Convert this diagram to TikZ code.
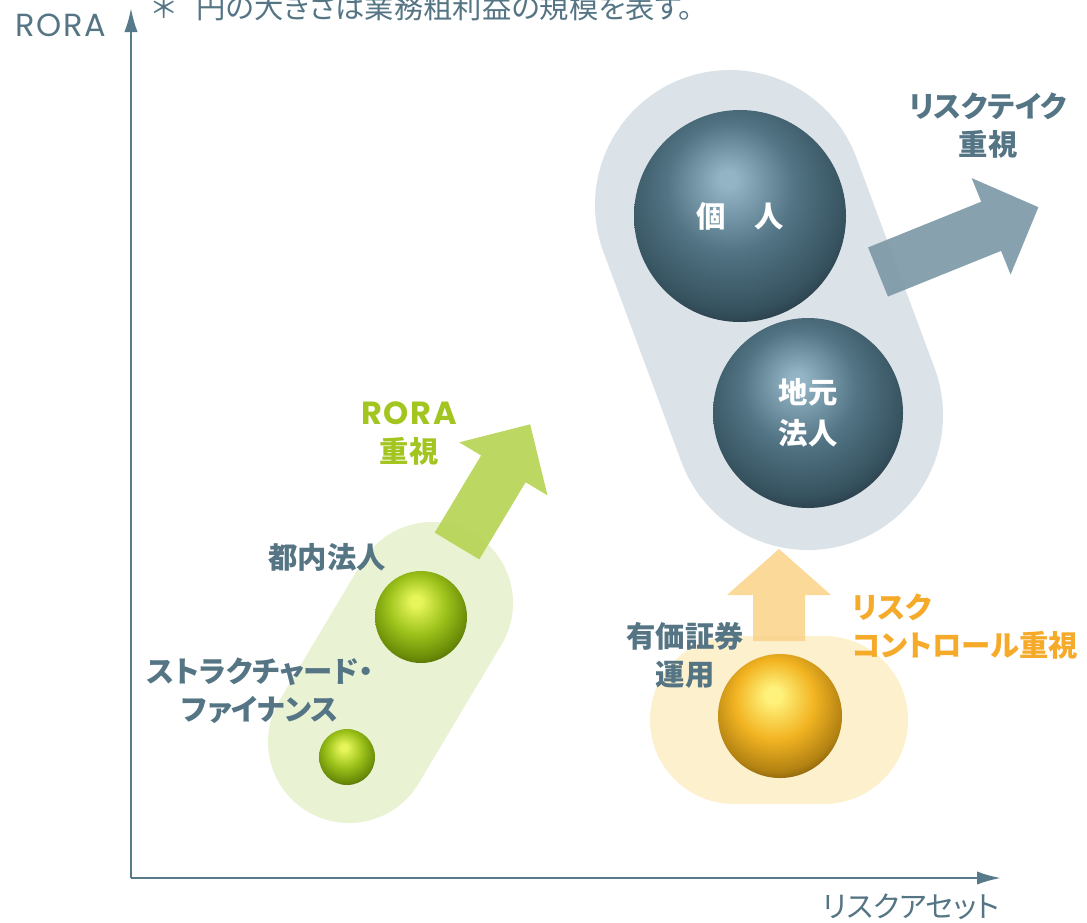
\documentclass[tikz,border=0pt]{standalone}
\usepackage{fontspec}
\usetikzlibrary{arrows.meta}
\newfontfamily\jp[RawFeature=+palt]{Noto Sans CJK JP}
\newfontfamily\latin[LetterSpace=5]{Poppins}
\definecolor{axiscol}{HTML}{567A8A}
\definecolor{labcol}{HTML}{557585}
\definecolor{pillgray}{HTML}{DCE3E8}
\definecolor{pillgreen}{HTML}{E9F3D3}
\definecolor{pillorange}{HTML}{FDF0CD}
\definecolor{arrgray}{HTML}{7E99A7}
\definecolor{arrgreen}{HTML}{B6D352}
\definecolor{arrorange}{HTML}{F9D287}
\definecolor{greentext}{HTML}{A3C51F}
\definecolor{orangetext}{HTML}{F5AA2A}
\definecolor{bhi}{HTML}{93B4C4}
\definecolor{bmid}{HTML}{527484}
\definecolor{bdark}{HTML}{36525F}
\definecolor{bedge}{HTML}{22323C}
\definecolor{ghi}{HTML}{E6F55A}
\definecolor{gmid}{HTML}{9CC21A}
\definecolor{gdark}{HTML}{6A8C08}
\definecolor{gedge}{HTML}{4A6200}
\definecolor{ohi}{HTML}{FFF27C}
\definecolor{omid}{HTML}{F2B422}
\definecolor{odark}{HTML}{B38212}
\definecolor{oedge}{HTML}{6E5008}
\pgfdeclareradialshading{sphblue}{\pgfpoint{-3bp}{9bp}}{color(0bp)=(bhi); color(2bp)=(bhi); color(15bp)=(bmid); color(27bp)=(bdark); color(33bp)=(bedge); color(60bp)=(bedge)}
\pgfdeclareradialshading{sphgreen}{\pgfpoint{-3bp}{9bp}}{color(0bp)=(ghi); color(3bp)=(ghi); color(16bp)=(gmid); color(27bp)=(gdark); color(33bp)=(gedge); color(60bp)=(gedge)}
\pgfdeclareradialshading{sphgold}{\pgfpoint{-3bp}{9bp}}{color(0bp)=(ohi); color(3bp)=(ohi); color(16bp)=(omid); color(27bp)=(odark); color(33bp)=(oedge); color(60bp)=(oedge)}
\newcommand{\fatarrowpath}[4]{(0,-#2) -- (#1-#4,-#2) -- (#1-#4,-#3) -- (#1,0) -- (#1-#4,#3) -- (#1-#4,#2) -- (0,#2) -- cycle}
\begin{document}
\begin{tikzpicture}[x=0.75pt,y=-0.75pt,
  every node/.style={font=\jp},
  ball/.style={circle, inner sep=0pt, shading=#1, text=white, font=\jp\bfseries\fontsize{22}{31}\selectfont, align=center},
  lab/.style={font=\jp\bfseries\fontsize{22}{28.5}\selectfont, align=center, text=labcol, inner sep=0pt},
  axislab/.style={font=\jp\fontsize{22}{24}\selectfont, text=labcol, inner sep=0pt},
  axisline/.style={draw=axiscol, line width=1.8pt, -{Latex[length=18pt,width=10pt]}},
]
\useasboundingbox (0,0) rectangle (1087,922);
\clip (0,0) rectangle (1087,922);
% pills
\draw[pillgray, line width=202.5pt, line cap=round] (730,205) -- (808,415);
\draw[pillgreen, line width=121.5pt, line cap=round] (349,742) -- (432,603);
\draw[pillorange, line width=126pt, line cap=round] (734,720) -- (824,720);
% fat arrows
\begin{scope}[shift={(457,546)}, rotate=59]
  \fill[arrgreen, opacity=0.9] \fatarrowpath{142}{26}{51.5}{52};
\end{scope}
\begin{scope}[shift={(878,272)}, rotate=22]
  \fill[arrgray, opacity=0.92] \fatarrowpath{173}{26.5}{52}{51};
\end{scope}
\begin{scope}[shift={(779,641)}, rotate=90]
  \fill[arrorange, opacity=0.85] \fatarrowpath{92}{26}{52}{46};
\end{scope}
% axes
\coordinate (origin) at (131,878);
\coordinate (ytip) at (131,8);
\coordinate (xtip) at (1001,878);
\draw[axisline] (origin) -- (ytip);
\draw[axisline] (origin) -- (xtip);
\node[axislab, font=\latin\fontsize{24}{26}\selectfont, anchor=center] (yl) at (61,25) {RORA};
\node[axislab, anchor=center] (xl) at (911,907) {リスクアセット};
\node[axislab, anchor=west] (note) at (152,7) {＊\hspace{0.7em}円の大きさは業務粗利益の規模を表す。};
% balls
\node[ball=sphblue, minimum size=159pt] (kojin) at (740,216) {個　人};
\node[ball=sphblue, minimum size=142.5pt] (chimoto) at (808,413) {地元\\法人};
\node[ball=sphgreen, minimum size=69pt] (tonai) at (421,617) {};
\node[ball=sphgreen, minimum size=42pt] (sf) at (347,757) {};
\node[ball=sphgold, minimum size=93pt] (yuka) at (780,716) {};
% labels
\node[lab] (tonaiL) at (327,557) {都内法人};
\node[lab] (sfL) at (260,691) {ストラクチャード・\\ファイナンス};
\node[lab] (yukaL) at (685,655) {有価証券\\運用};
\node[lab] (riskL) at (988,126) {リスクテイク\\重視};
\node[lab, text=greentext] (roraL) at (409,434) {{\latin\fontsize{24}{28.5}\selectfont RORA}\\重視};
\node[lab, text=orangetext, align=left, anchor=west] (ctrlL) at (852,627) {リスク\\コントロール重視};
\end{tikzpicture}
\end{document}
